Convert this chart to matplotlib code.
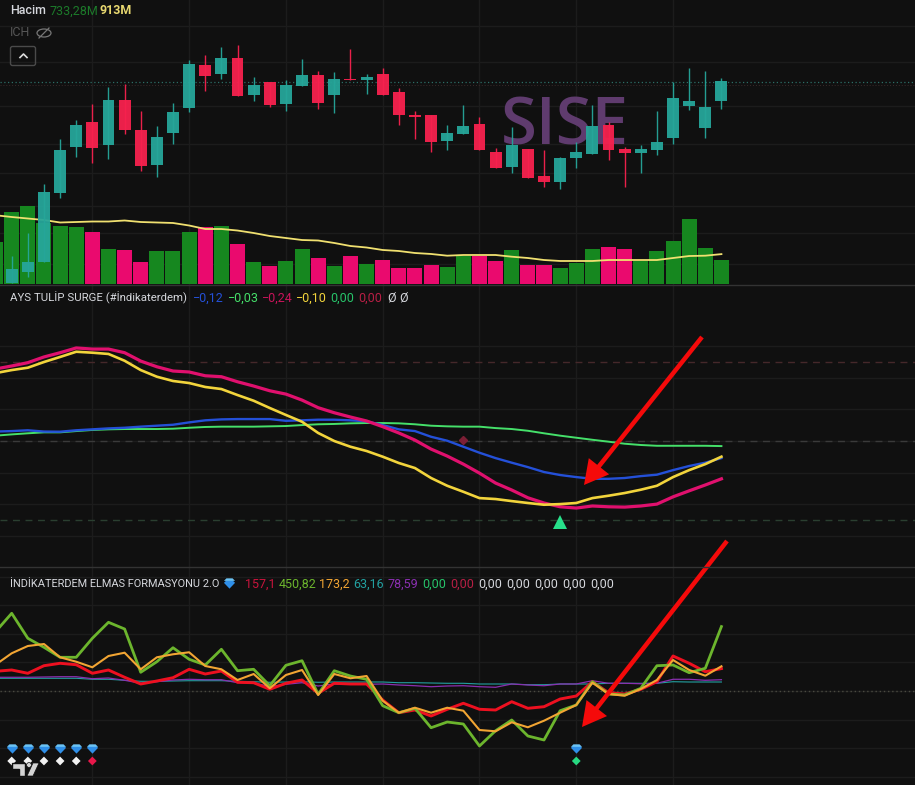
import numpy as np
import matplotlib
matplotlib.use('Agg')
from matplotlib import pyplot as plt
from matplotlib import patches as mpatches

# price in kurus, one row per candle
opens = [3717, 3728, 3738, 3807, 3853, 3878, 3855, 3900, 3870, 3835, 3867, 3892, 3935, 3926, 3942, 3905, 3918, 3896, 3914,
         3925, 3905, 3921.5, 3920, 3926, 3908, 3885, 3885, 3859, 3866, 3876, 3848, 3833, 3851, 3824, 3818, 3842, 3846,
         3875, 3851, 3847, 3850, 3862, 3894, 3872, 3899]
highs = [3744, 3767, 3816, 3861, 3880, 3896, 3913, 3916, 3889, 3874, 3897, 3940, 3945, 3953, 3955, 3923, 3918, 3920, 3941,
         3929, 3928, 3951, 3926, 3932, 3912, 3889, 3885, 3875, 3895, 3883, 3852, 3873, 3851, 3850, 3843, 3858, 3895,
         3878, 3853, 3855, 3889, 3918, 3932, 3929, 3922]
lows = [3717, 3723, 3738, 3802, 3843, 3837, 3841, 3866, 3829, 3823, 3856, 3888, 3909, 3921, 3904, 3899, 3893, 3889, 3914,
        3891, 3887, 3920, 3906, 3905, 3875, 3861, 3848, 3850, 3866, 3850, 3832, 3827, 3822, 3813, 3811, 3832, 3846,
        3840, 3813, 3827, 3845, 3856, 3890, 3862, 3891]
closes = [3731, 3738, 3808, 3850, 3875, 3852, 3900, 3870, 3834, 3863, 3888, 3936, 3924, 3942, 3904, 3915, 3895, 3915, 3925,
          3897, 3921, 3920, 3923, 3905, 3885, 3883, 3858, 3867, 3874, 3850, 3832, 3855, 3822, 3818, 3842, 3848, 3874,
          3850, 3847, 3851, 3858, 3902, 3899, 3893, 3919]

# volume in millions, starts one bar left of the first candle
volume = [1283, 2200, 2383, 1864, 1772, 1741, 1589, 1069, 1039, 672, 1008, 1008, 1589, 1741, 1772, 1222, 672, 550, 703, 1069,
          794, 550, 855, 611, 733, 489, 489, 580, 519, 855, 855, 703, 1039, 580, 580, 489, 642, 1069, 1130, 1069, 703,
          1008, 1314, 1986, 1100, 733.28]
volume_up = [1, 1, 1, 1, 1, 1, 0, 1, 0, 0, 1, 1, 1, 0, 1, 0, 1, 0, 1, 1, 0, 1, 0, 1, 0, 0, 0, 0, 1, 1, 0, 0, 1, 0, 0, 1, 1,
             1, 0, 0, 1, 1, 1, 1, 1, 1]
volume_ma = [2100, 2047, 2001, 1955, 1879, 1894, 1909, 1909, 1940, 1894, 1879, 1864, 1787, 1680, 1680, 1634, 1558, 1466, 1405,
             1344, 1329, 1253, 1161, 1115, 1039, 1008, 947, 917, 865, 886, 886, 886, 834, 794, 733, 703, 703, 703, 733, 733,
             733, 733, 794, 855, 865, 913]

tulip_blue = [.060, .063, .068, .060, .059, .068, .074, .080, .084, .091, .097, .103, .118, .131, .137, .139, .139, .139,
              .128, .131, .135, .135, .131, .125, .101, .074, .063, .027, .002, -.036, -.074, -.108, -.137, -.165, -.196,
              -.215, -.228, -.239, -.239, -.234, -.222, -.213, -.184, -.158, -.137, -.108]
tulip_green = [.034, .042, .049, .055, .055, .063, .070, .074, .076, .076, .076, .078, .084, .089, .091, .091, .091, .093,
               .095, .101, .106, .108, .112, .114, .114, .112, .106, .097, .093, .091, .091, .082, .076, .065, .049, .034,
               .021, .008, -.004, -.017, -.025, -.030, -.030, -.030, -.030, -.032]
tulip_pink = [.456, .475, .496, .532, .559, .589, .582, .582, .559, .506, .470, .443, .437, .413, .407, .375, .348, .318,
              .297, .259, .211, .179, .152, .127, .091, .051, .006, -.051, -.095, -.146, -.203, -.266, -.310, -.359, -.392,
              -.416, -.424, -.411, -.416, -.418, -.411, -.399, -.353, -.315, -.278, -.239]
tulip_yellow = [.430, .449, .464, .500, .532, .565, .559, .551, .508, .449, .407, .380, .367, .342, .329, .291, .255, .209,
                .165, .122, .051, 0, -.036, -.063, -.099, -.139, -.171, -.234, -.283, -.321, -.361, -.367, -.380, -.392,
                -.403, -.399, -.392, -.361, -.346, -.329, -.308, -.283, -.228, -.184, -.146, -.099]

elmas_green = [415, 544, 369, 306, 236, 236, 369, 481, 434, 131, 205, 303, 222, 182, 292, 142, 152, 37, 180, 212, -23, 142,
               105, 82, -103, -152, -121, -257, -217, -231, -385, -278, -203, -315, -343, -138, -98, 65, -21, -28, 19, 177,
               182, 128, 159, 451]
elmas_orange = [184, 264, 315, 329, 236, 205, 166, 245, 268, 152, 236, 257, 271, 175, 152, 77, 119, 19, 112, 147, -28, 119,
                89, 105, -68, -152, -117, -152, -117, -138, -273, -282, -219, -254, -208, -152, -98, 58, -21, -33, 14, 77,
                217, 147, 107, 173]
elmas_red = [138, 147, 124, 177, 194, 184, 124, 147, 96, 49, 70, 93, 152, 119, 140, 61, 58, 12, 54, 77, -16, 54, 49, 49,
             -63, -152, -133, -175, -128, -86, -128, -133, -75, -121, -110, -56, -35, 65, -12, -21, 12, 65, 245, 194, 135,
             157]
elmas_teal = [89, 89, 89, 89, 89, 89, 82, 82, 75, 68, 68, 70, 72, 72, 72, 68, 65, 61, 63, 65, 61, 63, 63, 63, 63, 58, 58, 56,
              54, 54, 49, 49, 49, 44, 44, 49, 49, 49, 54, 54, 54, 54, 65, 63, 63, 63]
elmas_purple = [96, 96, 96, 98, 100, 100, 86, 91, 75, 54, 65, 77, 82, 79, 79, 58, 58, 30, 47, 58, 35, 49, 47, 47, 49, 42, 37,
                30, 35, 37, 30, 26, 49, 42, 37, 49, 49, 72, 54, 54, 51, 54, 82, 82, 75, 79]

gem_bars = [0, 1, 2, 3, 4, 5, 35]
dot_bars = [0, 1, 2, 3, 4, 5, 35]
dot_colors = ['#f2f2f2', '#f2f2f2', '#f2f2f2', '#f2f2f2', '#f2f2f2', '#e8174a', '#27d981']

price_grid = [3974, 3938, 3894, 3856, 3827, 3794, 3767, 3736]
bar_grid = [5, 11, 17, 23, 29, 35, 41]

BG = '#101010'
GRID = '#1c1c1c'
UP = '#26a69a'
DOWN = '#f7214e'
GEM = [(-1, .3), (-.55, .75), (.55, .75), (1, .3), (0, -.75)]
GEM_TOP = [(-1, .3), (-.55, .75), (.55, .75), (1, .3)]

plt.rcParams['font.family'] = ['Roboto', 'DejaVu Sans']

W, H = 915, 785
fig = plt.figure(figsize=(W / 100, H / 100), dpi=100, facecolor=BG)


def panel(top, bottom):
    ax = fig.add_axes([0, 1 - bottom / H, 1, (bottom - top) / H])
    ax.set_facecolor(BG)
    ax.set_xlim(-0.725, 56.0)
    ax.set_axisbelow(True)
    ax.set_xticks(bar_grid)
    ax.tick_params(length=0, labelleft=False, labelbottom=False)
    ax.grid(color=GRID, lw=1)
    for s in ax.spines.values():
        s.set_visible(False)
    return ax


# price + volume
ax1 = panel(0, 285)
ax1.set_ylim(3715, 4000)
ax1.set_yticks(price_grid)
x = np.arange(len(closes))
vol_x = np.arange(-1, len(closes))
vol_scale = 1 / 30.55
vol_base = 3716
vol_colors = ['#16871f' if up else '#ea0a6e' for up in volume_up]
ax1.bar(vol_x, np.array(volume) * vol_scale, bottom=vol_base, width=0.93, color=vol_colors, zorder=2)
ax1.plot(vol_x, vol_base + np.array(volume_ma) * vol_scale, color='#f0e070', lw=1.3, zorder=3)
colors = [UP if c >= o else DOWN for o, c in zip(opens, closes)]
ax1.vlines(x, lows, highs, color=colors, lw=1, zorder=4, alpha=0.95)
ax1.bar(x, np.abs(np.array(closes) - np.array(opens)), bottom=np.minimum(opens, closes), width=0.74,
        color=colors, zorder=4, alpha=0.95)
ax1.axhline(3918, color='#2c6e66', lw=0.9, ls=(0, (1, 2)), zorder=1.5)
ax1.axhline(3915, color='#3a2a2a', lw=0.7, ls=(0, (1, 2)), zorder=1.5)
ax1.text(34.3, 3872, 'SISE', family='Open Sans', fontweight='semibold', color='#5f3b6e', fontsize=47, ha='center',
         va='center', zorder=1.5)

# tulip surge
ax2 = panel(286, 567)
ax2.set_ylim(-.797, .981)
ax2.set_yticks(np.arange(-.6, .7, .2))
ax2.axhline(.5, color='#45282a', lw=1, ls=(0, (5, 4)), zorder=1.5)
ax2.axhline(0, color='#3a3a3a', lw=1, ls=(0, (5, 4)), zorder=1.5)
ax2.axhline(-.5, color='#2a3f30', lw=1, ls=(0, (5, 4)), zorder=1.5)
ax2.plot(vol_x, tulip_green, color='#45e06a', lw=1.4, zorder=3)
ax2.plot(vol_x, tulip_blue, color='#2450d8', lw=1.7, zorder=3)
ax2.plot(vol_x, tulip_pink, color='#e0106e', lw=2.3, zorder=3)
ax2.plot(vol_x, tulip_yellow, color='#f2d43c', lw=1.9, zorder=3)
ax2.plot([28], [0.005], 'D', color='#7d1f35', ms=4.5, zorder=4)
ax2.plot([34], [-.51], '^', color='#27e08a', ms=10, mew=0, zorder=4)

# elmas formasyonu
ax3 = panel(568, 785)
ax3.set_ylim(-658, 861)
ax3.set_yticks(np.arange(-600, 801, 200))
ax3.axhline(0, color='#4a4a40', lw=1, ls=(0, (1, 2)), zorder=1.5)
ax3.plot(vol_x, elmas_teal, color='#22a0a0', lw=0.8, zorder=3)
ax3.plot(vol_x, elmas_purple, color='#8a2fb0', lw=0.9, zorder=3)
ax3.plot(vol_x, elmas_red, color='#ee1020', lw=2.1, zorder=3)
ax3.plot(vol_x, elmas_green, color='#6cb52d', lw=2.0, zorder=4)
ax3.plot(vol_x, elmas_orange, color='#f2a533', lw=1.5, zorder=5)
for b in gem_bars:
    ax3.plot([b], [-406], marker=GEM, color='#2f8fe8', ms=8, mew=0, zorder=6)
    ax3.plot([b], [-396], marker=GEM_TOP, color='#6cc4f5', ms=8, mew=0, zorder=6)
ax3.scatter(dot_bars, [-490] * len(dot_bars), marker='D', s=20, c=dot_colors, linewidths=0, zorder=6)

# overlay in picture pixels for legends, separators and the hand drawn arrows
ov = fig.add_axes([0, 0, 1, 1], zorder=10)
ov.set_xlim(0, W)
ov.set_ylim(H, 0)
ov.axis('off')
ov.patch.set_alpha(0)
ov.axhline(285, color='#333333', lw=1)
ov.axhline(567, color='#333333', lw=1)


def label(px, py, s, color, **kw):
    ov.text(px, py, s, color=color, fontsize=kw.pop('fontsize', 8.2), ha='left', va='center', **kw)


WHITE = '#d5d7dc'
label(10, 11, 'Hacim', WHITE, fontweight='medium', fontsize=9)
label(49, 11, '733,28M', '#1c7a2a', fontsize=9)
label(100, 11, '913M', '#e8d870', fontweight='bold', fontsize=9)
label(10, 33, 'ICH', '#555555', fontsize=9)
ov.add_patch(mpatches.Ellipse((44, 33), 14, 8, fill=False, ec='#777777', lw=0.9))
ov.plot([39, 49], [38, 28], color='#777777', lw=0.9)
ov.add_patch(mpatches.FancyBboxPatch((12, 48), 22, 16, boxstyle='round,pad=1.5,rounding_size=2', fc='none',
                                     ec='#4a4a4a', lw=1))
ov.plot([20, 23.5, 27], [57.5, 54, 57.5], color='#dddddd', lw=1.2)

label(10, 298, 'AYS TULİP SURGE (#İndikaterdem)', WHITE)
tulip_legend = [(193, '−0,12', '#2450d8'), (228, '−0,03', '#45e06a'), (262, '−0,24', '#c8145a'),
                (296, '−0,10', '#f2d43c'), (330, '0,00', '#27c46a'), (358, '0,00', '#b81f45'),
                (387, 'Ø', WHITE), (399, 'Ø', WHITE)]
for px, s, c in tulip_legend:
    label(px, 298, s, c, fontsize=9)

label(10, 584, 'İNDİKATERDEM ELMAS FORMASYONU 2.O', WHITE, fontsize=7.9)
ov.plot([229], [584], marker=GEM, color='#2f8fe8', ms=8, mew=0)
ov.plot([229], [581.5], marker=GEM_TOP, color='#6cc4f5', ms=8, mew=0)
elmas_legend = [(245, '157,1', '#c8143c'), (279, '450,82', '#6cb52d'), (319, '173,2', '#f2a533'),
                (353, '63,16', '#22a0a0'), (387, '78,59', '#8a2fb0'), (422, '0,00', '#27c46a'),
                (450, '0,00', '#b81f45'), (478, '0,00', WHITE), (506, '0,00', WHITE), (534, '0,00', WHITE),
                (562, '0,00', WHITE), (590, '0,00', WHITE)]
for px, s, c in elmas_legend:
    label(px, 584, s, c, fontsize=9)

# arrows
for tail, tip in [((702, 337), (584, 485)), ((727, 541), (582, 727))]:
    ov.add_patch(mpatches.FancyArrow(tail[0], tail[1], tip[0] - tail[0], tip[1] - tail[1], width=4.5, head_width=26,
                                     head_length=24, length_includes_head=True, color='#f50a0a', lw=0))

# tradingview logo
logo = '#d4d4d4'
ov.add_patch(mpatches.Polygon([(12, 763), (25, 763), (25, 776), (19, 776), (19, 769), (12, 769)], fc=logo, ec=BG, lw=1))
ov.add_patch(mpatches.Circle((29, 765), 2.4, fc=logo, ec=BG, lw=0.5))
ov.add_patch(mpatches.Polygon([(33, 763), (39, 763), (33, 776), (27, 776)], fc=logo, ec=BG, lw=0.5))

fig.savefig('out.png', dpi=100, facecolor=BG)
